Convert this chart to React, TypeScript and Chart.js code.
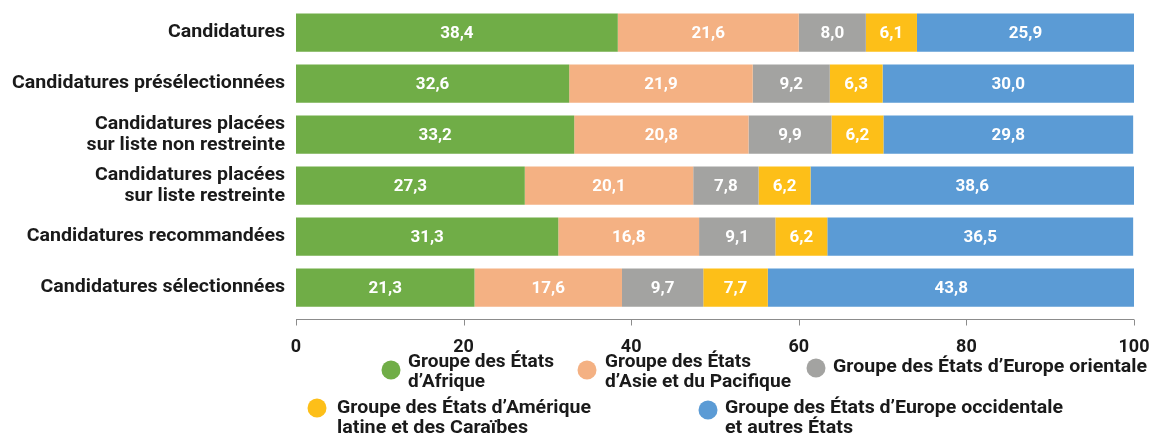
import React, { useEffect, useRef } from "react";
import { Chart, registerables } from "chart.js";

Chart.register(...registerables);

const categories: (string | string[])[] = [
  "Candidatures",
  "Candidatures présélectionnées",
  ["Candidatures placées", "sur liste non restreinte"],
  ["Candidatures placées", "sur liste restreinte"],
  "Candidatures recommandées",
  "Candidatures sélectionnées",
];

const seriesNames: string[][] = [
  ["Groupe des États", "d\u2019Afrique"],
  ["Groupe des États", "d\u2019Asie et du Pacifique"],
  ["Groupe des États d\u2019Europe orientale"],
  ["Groupe des États d\u2019Amérique", "latine et des Caraïbes"],
  ["Groupe des États d\u2019Europe occidentale", "et autres États"],
];

const afrique = [38.4, 32.6, 33.2, 27.3, 31.3, 21.3];
const asie = [21.6, 21.9, 20.8, 20.1, 16.8, 17.6];
const europeOrientale = [8.0, 9.2, 9.9, 7.8, 9.1, 9.7];
const amerique = [6.1, 6.3, 6.2, 6.2, 6.2, 7.7];
const europeOccidentale = [25.9, 30.0, 29.8, 38.6, 36.5, 43.8];

const colors = ["#70AD47", "#F4B183", "#A3A3A1", "#FDBF18", "#5B9BD5"];

const xTicks = [0, 20, 40, 60, 80, 100];

const FONT = "Roboto, 'Noto Sans', sans-serif";
const TEXT = "#1a1a1a";

// legend layout: circle centre, text start, first line y, target width per line
const legendLayout = [
  { cx: 391, cy: 370, tx: 408, ty: 362, w: [146, 77] },
  { cx: 587, cy: 370, tx: 605, ty: 362, w: [146, 186] },
  { cx: 816, cy: 368, tx: 833, ty: 367, w: [314] },
  { cx: 317, cy: 408, tx: 337, ty: 408, w: [254, 191] },
  { cx: 708, cy: 410, tx: 725, ty: 408, w: [338, 128] },
];

const fmt = (v: number) => v.toFixed(1).replace(".", ",");

const valueLabels = {
  id: "valueLabels",
  afterDatasetsDraw(chart: any) {
    const ctx = chart.ctx;
    ctx.save();
    ctx.fillStyle = "#ffffff";
    ctx.font = `bold 17px ${FONT}`;
    ctx.textAlign = "center";
    ctx.textBaseline = "middle";
    chart.data.datasets.forEach((ds: any, di: number) => {
      const meta = chart.getDatasetMeta(di);
      meta.data.forEach((el: any, i: number) => {
        const cx = (el.x + el.base) / 2;
        ctx.fillText(fmt(ds.data[i]), cx, el.y + 1);
      });
    });
    ctx.restore();
  },
};

const categoryLabels = {
  id: "categoryLabels",
  afterDraw(chart: any) {
    const ctx = chart.ctx;
    const ys = chart.scales.y;
    ctx.save();
    ctx.font = `bold 18px ${FONT}`;
    ctx.fillStyle = TEXT;
    ctx.textAlign = "right";
    ctx.textBaseline = "middle";
    const sx = 273 / ctx.measureText("Candidatures présélectionnées").width;
    const right = chart.chartArea.left - 11;
    categories.forEach((lab, i) => {
      const lines = Array.isArray(lab) ? lab : [lab];
      const cy = ys.getPixelForTick(i);
      const lh = 21;
      lines.forEach((t, j) => {
        const y = cy - ((lines.length - 1) * lh) / 2 + j * lh;
        ctx.save();
        ctx.translate(right, y);
        ctx.scale(sx, 1);
        ctx.fillText(t, 0, 0);
        ctx.restore();
      });
    });
    ctx.restore();
  },
};

const axisLine = {
  id: "axisLine",
  afterDraw(chart: any) {
    const ctx = chart.ctx;
    const xs = chart.scales.x;
    const y = chart.chartArea.bottom + 6.5;
    ctx.save();
    ctx.strokeStyle = "#8c8c8c";
    ctx.lineWidth = 1;
    ctx.beginPath();
    ctx.moveTo(xs.getPixelForValue(0), y);
    ctx.lineTo(xs.getPixelForValue(100), y);
    xTicks.forEach((t) => {
      const px = Math.round(xs.getPixelForValue(t)) + 0.5;
      ctx.moveTo(px, y);
      ctx.lineTo(px, y + 6);
    });
    ctx.stroke();
    ctx.restore();
  },
};

const legendPlugin = {
  id: "customLegend",
  afterDraw(chart: any) {
    const ctx = chart.ctx;
    ctx.save();
    ctx.textBaseline = "middle";
    ctx.textAlign = "left";
    ctx.font = `bold 18px ${FONT}`;
    seriesNames.forEach((lines, i) => {
      const L = legendLayout[i];
      ctx.fillStyle = colors[i];
      ctx.beginPath();
      ctx.arc(L.cx, L.cy, 9.5, 0, Math.PI * 2);
      ctx.fill();
      ctx.fillStyle = TEXT;
      lines.forEach((t, j) => {
        const m = ctx.measureText(t).width;
        const sx = L.w[j] / m;
        ctx.save();
        ctx.translate(L.tx, L.ty + j * 20);
        ctx.scale(sx, 1);
        ctx.fillText(t, 0, 0);
        ctx.restore();
      });
    });
    ctx.restore();
  },
};

export default function App() {
  const ref = useRef<HTMLCanvasElement>(null);
  useEffect(() => {
    document.body.style.margin = "0";
    const values = [afrique, asie, europeOrientale, amerique, europeOccidentale];
    const chart = new Chart(ref.current!, {
      type: "bar",
      data: {
        labels: categories,
        datasets: values.map((d, i) => ({
          label: seriesNames[i].join(" "),
          data: d,
          backgroundColor: colors[i],
          borderWidth: 0,
          categoryPercentage: 0.75,
          barPercentage: 1,
        })),
      },
      options: {
        indexAxis: "y",
        animation: false,
        responsive: false,
        layout: { padding: { top: 7, right: 18, left: 0, bottom: 0 } },
        plugins: { legend: { display: false }, tooltip: { enabled: false } },
        scales: {
          x: {
            stacked: true,
            min: 0,
            max: 100,
            afterFit(scale: any) {
              scale.height = 125;
              scale.paddingLeft = 0;
              scale.paddingRight = 0;
            },
            afterBuildTicks(scale: any) {
              scale.ticks = xTicks.map((v) => ({ value: v }));
            },
            grid: { display: false },
            border: { display: false },
            ticks: {
              padding: 16,
              color: TEXT,
              font: { family: FONT, size: 18, weight: "bold" },
            },
          },
          y: {
            stacked: true,
            afterFit(scale: any) {
              scale.width = 296;
              scale.paddingTop = 0;
              scale.paddingBottom = 0;
            },
            grid: { display: false },
            border: { display: false },
            ticks: {
              padding: 11,
              color: "rgba(0,0,0,0)",
              font: { family: FONT, size: 18, weight: "bold", lineHeight: 1.15 },
            },
          },
        },
      },
      plugins: [valueLabels, categoryLabels, axisLine, legendPlugin],
    } as any);
    return () => chart.destroy();
  }, []);
  return (
    <div style={{ position: "absolute", left: 0, top: 0, width: 1152, height: 438 }}>
      <canvas ref={ref} width={1152} height={438} style={{ display: "block" }} />
    </div>
  );
}
